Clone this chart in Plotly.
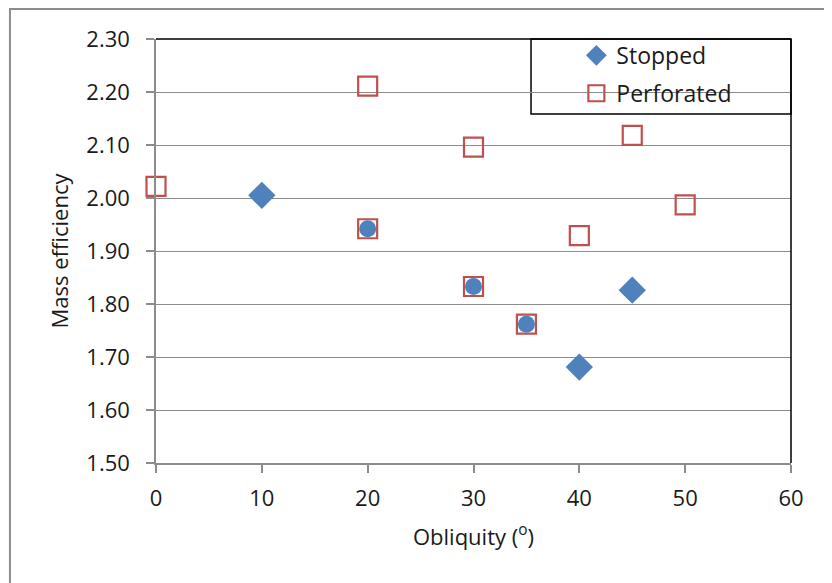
import plotly.graph_objects as go

# Data
stopped_x = [10, 20, 30, 35, 40, 45]
stopped_y = [2.005, 1.942, 1.833, 1.762, 1.681, 1.826]
stopped_symbols = ["diamond", "circle", "circle", "circle", "diamond", "diamond"]
stopped_sizes = [21, 17, 17, 17, 21, 21]

perforated_x = [0, 20, 20, 30, 30, 35, 40, 45, 50]
perforated_y = [2.022, 2.211, 1.942, 2.096, 1.833, 1.762, 1.929, 2.118, 1.987]

x_ticks = [0, 10, 20, 30, 40, 50, 60]
y_ticks = [1.5, 1.6, 1.7, 1.8, 1.9, 2.0, 2.1, 2.2, 2.3]

FONT = "Open Sans"
BLUE = "#4F81BD"
RED = "#C0504D"
GRID = "#8C8C8C"
TXT = "#1a1a1a"

fig = go.Figure()

fig.add_trace(go.Scatter(
    x=perforated_x, y=perforated_y, mode="markers", name="Perforated",
    legendgroup="b", legendrank=2, cliponaxis=False,
    marker=dict(symbol="square-open", size=19, color=RED, opacity=1,
                line=dict(width=2.2, color=RED)),
))
fig.add_trace(go.Scatter(
    x=stopped_x, y=stopped_y, mode="markers", name="Stopped",
    legendgroup="a", legendrank=1, cliponaxis=False,
    marker=dict(symbol=stopped_symbols, size=stopped_sizes, color=BLUE, opacity=1,
                line=dict(width=0)),
))

fig.update_layout(
    width=832, height=583,
    margin=dict(l=148, r=49, t=31, b=128),
    paper_bgcolor="white", plot_bgcolor="white",
    font=dict(family=FONT, size=22, color=TXT),
    showlegend=True,
    legend=dict(
        x=0.662, y=1.012, xanchor="left", yanchor="top",
        bgcolor="rgba(0,0,0,0)", borderwidth=0,
        traceorder="grouped",
        font=dict(family=FONT, size=23, color=TXT),
        itemwidth=30, tracegroupgap=5,
    ),
    xaxis=dict(
        range=[0, 60], tickvals=x_ticks, ticktext=[str(v) for v in x_ticks],
        showgrid=False, zeroline=False,
        showline=True, linecolor=GRID, linewidth=1.5,
        ticks="outside", ticklen=8, tickcolor=GRID, tickwidth=1.5,
        ticklabelstandoff=7,
        title=dict(text="Obliquity (<sup>o</sup>)", font=dict(family=FONT, size=22), standoff=18),
    ),
    yaxis=dict(
        range=[1.5, 2.3], tickvals=y_ticks, ticktext=[f"{v:.2f}" for v in y_ticks],
        showgrid=True, gridcolor=GRID, gridwidth=1.2, zeroline=False,
        showline=True, linecolor=GRID, linewidth=1.5,
        ticks="outside", ticklen=8, tickcolor=GRID, tickwidth=1.5,
        ticklabelstandoff=12,
        title=dict(text="Mass efficiency", font=dict(family=FONT, size=22), standoff=12),
    ),
    shapes=[
        # outer chart frame
        dict(type="rect", xref="paper", yref="paper", x0=-0.23, x1=1.2, y0=-0.6, y1=1.0708,
             line=dict(color="#8C8C8C", width=2), layer="below"),
        # top and right plot border
        dict(type="line", xref="paper", yref="paper", x0=0, x1=1, y0=1, y1=1,
             line=dict(color="black", width=1.5)),
        dict(type="line", xref="paper", yref="paper", x0=1, x1=1, y0=0, y1=1,
             line=dict(color="black", width=1.5)),
        # legend box
        dict(type="rect", xref="paper", yref="paper", x0=0.5906, x1=1.0, y0=0.823, y1=1.0,
             line=dict(color="black", width=1.5), fillcolor="white", layer="below"),
    ],
)

fig.write_html("out.html")
